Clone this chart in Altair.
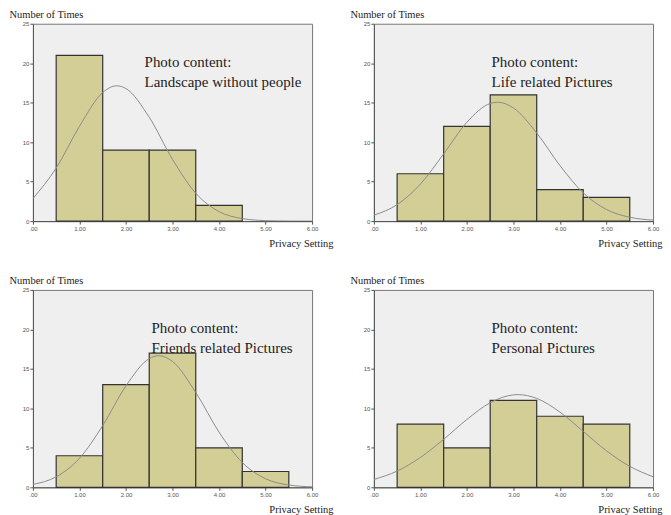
import altair as alt
import pandas as pd

# ---- data ----
bin_centers = [1, 2, 3, 4, 5]
x_ticks = [0, 1, 2, 3, 4, 5, 6]
y_ticks = [0, 5, 10, 15, 20, 25]

counts_landscape = [21, 9, 9, 2, 0]
counts_life = [6, 12, 16, 4, 3]
counts_friends = [4, 13, 17, 5, 2]
counts_personal = [8, 5, 11, 9, 8]

curve_x_landscape = [0, 0.5, 1, 1.5, 1.8, 2, 2.5, 3, 3.5, 4, 4.5, 5, 5.5, 6]
curve_y_landscape = [2.86, 6.72, 12.0, 16.29, 17.14, 16.79, 13.15, 7.82, 3.53, 1.21, 0.32, 0.06, 0.01, 0.0]

curve_x_life = [0, 0.5, 1, 1.5, 2, 2.5, 2.66, 3, 3.5, 4, 4.5, 5, 5.5, 6]
curve_y_life = [0.75, 2.09, 4.69, 8.52, 12.53, 14.90, 15.06, 14.33, 11.16, 7.03, 3.58, 1.47, 0.49, 0.13]

curve_x_friends = [0, 0.5, 1, 1.5, 2, 2.5, 2.7, 3, 3.5, 4, 4.5, 5, 5.5, 6]
curve_y_friends = [0.37, 1.33, 3.67, 7.82, 12.85, 16.30, 16.67, 15.94, 12.02, 6.99, 3.14, 1.09, 0.29, 0.06]

curve_x_personal = [0, 0.5, 1, 1.5, 2, 2.5, 3, 3.1, 3.5, 4, 4.5, 5, 5.5, 6]
curve_y_personal = [0.99, 2.06, 3.78, 6.08, 8.60, 10.71, 11.71, 11.74, 11.26, 9.52, 7.08, 4.62, 2.66, 1.34]

heading = "Photo content:"
subtitles = ["Landscape without people", "Life related Pictures",
             "Friends related Pictures", "Personal Pictures"]

# ---- styling ----
W, H = 280, 198
BAR_FILL = "#d3ce96"
SERIF = "Liberation Serif"
SANS = "Liberation Sans"


def panel(counts, cx, cy, subtitle, text_x, xtitle_dx):
    bars_df = pd.DataFrame({
        "lo": [c - 0.5 for c in bin_centers],
        "hi": [c + 0.5 for c in bin_centers],
        "count": counts,
    })
    bars_df = bars_df[bars_df["count"] > 0]
    curve_df = pd.DataFrame({"x": cx, "y": cy})

    xs = alt.Scale(domain=[0, 6], nice=False)
    ys = alt.Scale(domain=[0, 25], nice=False)

    x_axis = alt.Axis(
        values=x_ticks,
        labelExpr="datum.value == 0 ? '.00' : format(datum.value, '.2f')",
        title="Privacy Setting", titleX=W + xtitle_dx, titleY=25,
        titleAlign="right", titleBaseline="alphabetic",
        titleFont=SERIF, titleFontSize=10.5, titleFontWeight="normal", titleColor="#222",
        labelFont=SANS, labelFontSize=6, labelColor="#555", labelPadding=1,
        labelOverlap=False, labelFlush=False,
        tickSize=3, tickColor="#555", domainColor="#555", grid=False,
    )
    y_axis = alt.Axis(
        values=y_ticks,
        title="Number of Times", titleAngle=0, titleX=-24, titleY=-6,
        titleAlign="left", titleBaseline="alphabetic",
        titleFont=SERIF, titleFontSize=10.5, titleFontWeight="normal", titleColor="#222",
        labelFont=SANS, labelFontSize=6, labelColor="#555", labelPadding=1,
        labelOverlap=False, labelFlush=False,
        tickSize=3, tickColor="#555", domainColor="#555", grid=False,
    )

    bars = alt.Chart(bars_df).mark_rect(
        fill=BAR_FILL, stroke="#333333", strokeWidth=1.2
    ).encode(
        x=alt.X("lo:Q", scale=xs, axis=x_axis),
        x2="hi:Q",
        y=alt.Y("count:Q", scale=ys, axis=y_axis),
        y2=alt.datum(0),
    )

    curve = alt.Chart(curve_df).mark_line(
        color="#8c8c8c", strokeWidth=1, interpolate="monotone", clip=True
    ).encode(
        x=alt.X("x:Q", scale=xs, axis=x_axis),
        y=alt.Y("y:Q", scale=ys, axis=y_axis),
    )

    t1 = alt.Chart(pd.DataFrame({"t": [heading]})).mark_text(
        align="left", baseline="middle", font=SERIF, fontSize=15, color="#222"
    ).encode(x=alt.value(text_x), y=alt.value(38), text="t:N")
    t2 = alt.Chart(pd.DataFrame({"t": [subtitle]})).mark_text(
        align="left", baseline="middle", font=SERIF, fontSize=15, color="#222"
    ).encode(x=alt.value(text_x), y=alt.value(58), text="t:N")

    return alt.layer(bars, curve, t1, t2).properties(width=W, height=H)


p1 = panel(counts_landscape, curve_x_landscape, curve_y_landscape, subtitles[0], 112, 21)
p2 = panel(counts_life, curve_x_life, curve_y_life, subtitles[1], 118, 9)
p3 = panel(counts_friends, curve_x_friends, curve_y_friends, subtitles[2], 119, 21)
p4 = panel(counts_personal, curve_x_personal, curve_y_personal, subtitles[3], 118, 9)

chart = alt.concat(
    p1, p2, p3, p4, columns=2,
    spacing={"row": 69, "column": 62},
    bounds="flush",
).properties(
    padding={"left": 0, "top": 0, "right": 0, "bottom": 0},
    background="white",
).configure_view(
    fill="#efefef", stroke="#777", strokeWidth=1
)

chart.save("out.html", embed_options={"renderer": "svg", "actions": False})
